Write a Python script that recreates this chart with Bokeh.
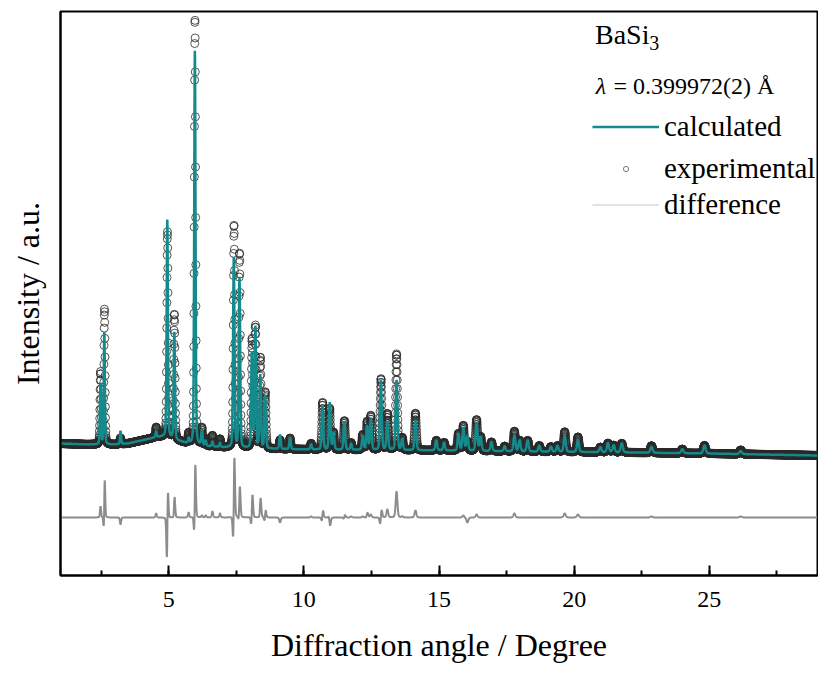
import numpy as np
from bokeh.plotting import figure
from bokeh.models import (Range1d, SingleIntervalTicker, FixedTicker, Legend,
                          LegendItem, Label, ColumnDataSource)
from bokeh.embed import file_html
from bokeh.resources import INLINE

# ---------------- data ----------------
# background knots (2theta in degree, intensity in arbitrary units)
bg_2theta = [1.0, 2.0, 3.0, 3.5, 4.0, 4.5, 4.9, 5.3, 5.8, 6.5, 7.0, 8.0, 9.0,
             10.0, 12.0, 15.0, 18.0, 20.0, 22.0, 25.0, 29.0]
bg_counts = [132, 131, 131, 132, 135, 138, 139, 135, 131, 129, 128, 127, 126.5,
             126, 125.5, 125, 124, 123.5, 123, 122, 120]

# reflections: position, calculated height, observed height, observed shift
peak_2theta = [2.48, 2.62, 3.22, 4.54, 4.95, 5.21, 5.74, 5.97, 6.23, 6.37,
               6.62, 6.90, 7.41, 7.62, 8.08, 8.21, 8.39, 8.57, 9.12, 9.49,
               10.27, 10.69, 10.96, 11.10, 11.50, 11.75, 12.18, 12.34, 12.48,
               12.85, 13.09, 13.43, 13.64, 14.13, 14.90, 15.19, 15.72, 15.90,
               16.05, 16.39, 16.54, 16.94, 17.43, 17.79, 17.98, 18.28, 18.71,
               19.14, 19.38, 19.65, 20.14, 20.97, 21.25, 21.46, 21.76, 22.86,
               24.00, 24.82, 26.16]
calc_height = [61, 112, 13, 6, 217, 107, 5, 394, 15, 5,
               5, 4, 190, 170, 95, 121, 73, 53, 14, 11,
               5, 44, 47, 17, 28, 6, 14, 24, 31,
               70, 28, 70, 11, 30, 10, 8, 17, 23,
               14, 28, 14, 9, 5, 16, 11, 11, 6,
               5, 6, 16, 12, 5, 9, 7, 9, 6,
               4, 8, 3]
obs_height = [72, 135, 6, 10, 205, 125, 10, 426, 17, 7,
              11, 8, 222, 194, 108, 121, 90, 56, 9, 11,
              6, 47, 41, 17, 29, 7, 15, 28, 34,
              71, 36, 96, 12, 37, 10, 8, 17, 25,
              9, 31, 14, 9, 5, 20, 11, 11, 6,
              5, 6, 20, 15, 5, 9, 7, 9, 7,
              4, 8, 4]
obs_shift = [0.0, 0.006, 0.0, 0.0, 0.006, 0.002, 0.0, 0.003, 0.0, 0.0,
             0.0, 0.0, 0.008, 0.003, 0.006, 0.0, 0.003, 0.004, 0.0, 0.0,
             0.0, 0.005, -0.004, 0.0, 0.003, 0.0, 0.0, 0.003, 0.0,
             0.005, 0.0, 0.0, 0.0, 0.0, 0.0, 0.0, 0.0, 0.0,
             0.0, 0.0, 0.0, 0.0, 0.0, 0.0, 0.0, 0.0, 0.0,
             0.0, 0.0, 0.0, 0.0, 0.0, 0.0, 0.0, 0.0, 0.0,
             0.0, 0.0, 0.0]

x_ticks_interval = 5
diff_baseline = 58

# ---------------- profiles ----------------
tt = np.round(np.arange(1.0, 29.0 + 1e-9, 0.005), 3)
bg = np.interp(tt, bg_2theta, bg_counts)
pos = np.array(peak_2theta)[None, :]
fwhm = 0.042 + 0.0025 * pos
eta = 0.25


def shape(dx):
    z = (dx / fwhm) ** 2
    return eta / (1 + 4 * z) + (1 - eta) * np.exp(-4 * np.log(2) * z)


calc = bg + (np.array(calc_height)[None, :] * shape(tt[:, None] - pos)).sum(1)
obs = bg + (np.array(obs_height)[None, :] *
            shape(tt[:, None] - pos - np.array(obs_shift)[None, :])).sum(1)
diff = obs - calc + diff_baseline

src = ColumnDataSource(dict(tt=tt, calc=calc, obs=obs, diff=diff))

TEAL = "#138a8c"
FONT = "Liberation Serif"

p = figure(width=818, height=665, output_backend="svg", toolbar_location=None,
           x_range=Range1d(1, 29), y_range=Range1d(0, 564),
           min_border_left=60, min_border_right=1, min_border_top=11,
           min_border_bottom=90, background_fill_color="white",
           border_fill_color="white")
p.grid.visible = False
p.outline_line_color = "black"
p.outline_line_width = 2

p.scatter("tt", "obs", source=src, marker="circle", size=8, fill_color=None,
          line_color="#2a2a2a", line_width=0.8)
p.line("tt", "diff", source=src, line_color="#8c8c8c", line_width=2)
p.line("tt", "calc", source=src, line_color=TEAL, line_width=2.5)

# axes
xa = p.xaxis[0]
xa.ticker = SingleIntervalTicker(interval=x_ticks_interval, num_minor_ticks=2)
xa.axis_line_width = 2
xa.major_tick_in = 10
xa.major_tick_out = 0
xa.minor_tick_in = 5
xa.minor_tick_out = 0
xa.major_tick_line_width = 2
xa.minor_tick_line_width = 2
xa.major_label_text_font = FONT
xa.major_label_text_font_size = "24px"
xa.major_label_text_color = "black"
xa.major_label_standoff = 16
xa.axis_label = "Diffraction angle / Degree"
xa.axis_label_text_font = FONT
xa.axis_label_text_font_size = "32px"
xa.axis_label_text_font_style = "normal"
xa.axis_label_text_color = "black"
xa.axis_label_standoff = 17

ya = p.yaxis[0]
ya.ticker = FixedTicker(ticks=[])
ya.axis_line_width = 2
ya.major_tick_line_color = None
ya.minor_tick_line_color = None
ya.major_label_standoff = 0
ya.axis_label = "Intensity / a.u."
ya.axis_label_text_font = FONT
ya.axis_label_text_font_size = "32px"
ya.axis_label_text_font_style = "normal"
ya.axis_label_text_color = "black"
ya.axis_label_standoff = 15

# legend (sample renderers carrying the legend styling, no visible data)
nan = float("nan")
leg_calc = p.line([nan], [nan], line_color=TEAL, line_width=2.5)
leg_obs = p.scatter([nan], [nan], marker="circle", size=6, fill_color=None,
                    line_color="#555555", line_width=0.8)
leg_diff = p.line([nan], [nan], line_color="#c4c4c4", line_width=1)


def make_legend(label, renderer, vy, gh):
    return Legend(items=[LegendItem(label=label, renderers=[renderer])],
                  location=(532, vy), glyph_width=67, glyph_height=gh,
                  label_height=31, spacing=0, padding=0, margin=0,
                  label_standoff=5, border_line_color=None,
                  background_fill_alpha=0, label_text_font=FONT,
                  label_text_font_size="29px", label_text_color="black")


p.add_layout(make_legend("calculated", leg_calc, 432, 31))
p.add_layout(make_legend("experimental", leg_obs, 390, 13))
p.add_layout(make_legend("difference", leg_diff, 354, 17))

p.add_layout(Label(x=20.77, y=541, text="BaSi", text_font=FONT,
                   text_font_size="28px", text_baseline="alphabetic",
                   text_color="black"))
p.add_layout(Label(x=22.78, y=533, text="3", text_font=FONT,
                   text_font_size="20px", text_baseline="alphabetic",
                   text_color="black"))
p.add_layout(Label(x=20.80, y=489.5, text="λ", text_font=FONT,
                   text_font_style="italic", text_font_size="24px",
                   text_baseline="alphabetic", text_color="black"))
p.add_layout(Label(x=21.45, y=489.5, text="= 0.399972(2) Å", text_font=FONT,
                   text_font_size="24px", text_baseline="alphabetic",
                   text_color="black"))

open("out.html", "w").write(file_html(p, INLINE))
